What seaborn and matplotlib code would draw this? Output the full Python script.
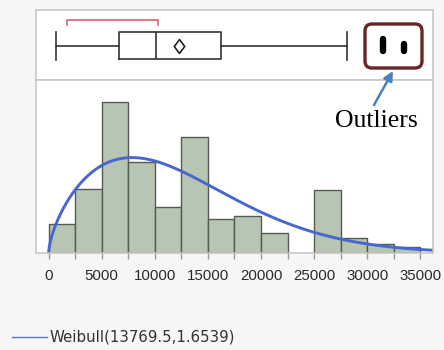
import numpy as np
import pandas as pd
import matplotlib
matplotlib.use("Agg")
import matplotlib.pyplot as plt
import seaborn as sns
from matplotlib.patches import FancyBboxPatch
from matplotlib.lines import Line2D
from matplotlib.path import Path
from matplotlib.transforms import IdentityTransform

# ---- data ----
bin_edges = [0, 2500, 5000, 7500, 10000, 12500, 15000, 17500, 20000,
             22500, 25000, 27500, 30000, 32500, 35000]
bin_percent = [4.3, 9.4, 22.2, 13.4, 6.8, 17.0, 5.0, 5.4, 2.9, 0.0,
               9.3, 2.2, 1.3, 0.9]
weibull_scale = 13769.5
weibull_shape = 1.6539
box_whisker_low = 700
box_q1 = 6650
box_median = 10140
box_q3 = 16260
box_whisker_high = 28100
box_mean = 12240
shortest_half = [1730, 10260]
outliers = [31520, 33490]
tick_values = [0, 5000, 10000, 15000, 20000, 25000, 30000, 35000]
tick_labels = ["0", "5000", "10000", "15000", "20000", "25000", "30000", "35000"]
legend_label = "Weibull(13769.5,1.6539)"

# ---- figure ----
W, H = 444, 350
bg = "#f6f6f6"
fig = plt.figure(figsize=(W / 100, H / 100), dpi=100, facecolor=bg)

L, R = 35.5, 433
ax_box = fig.add_axes([L / W, 1 - 80 / H, (R - L) / W, 70 / H])
ax = fig.add_axes([L / W, 1 - 253 / H, (R - L) / W, 173 / H])

xlim = (-1230, 36200)
for a in (ax_box, ax):
    a.set_facecolor("white")
    for s in a.spines.values():
        s.set_color("#c4c4c4")
        s.set_linewidth(1.1)
    a.set_xlim(*xlim)

# histogram
centers = [(bin_edges[i] + bin_edges[i + 1]) / 2 for i in range(len(bin_percent))]
df = pd.DataFrame({"x": centers, "w": bin_percent})
sns.histplot(data=df, x="x", weights="w", bins=bin_edges, ax=ax,
             color="#b7c6b3", edgecolor="#555a55", linewidth=1.0, alpha=1.0)
for p in ax.patches:
    if p.get_height() <= 0:
        p.set_visible(False)

# Weibull fit curve (scaled to percent per bin)
xs = np.linspace(0.5, xlim[1], 600)
k, lam = weibull_shape, weibull_scale
pdf = (k / lam) * (xs / lam) ** (k - 1) * np.exp(-(xs / lam) ** k)
curve = pd.DataFrame({"x": xs, "y": 100 * 2500 * pdf})
sns.lineplot(data=curve, x="x", y="y", ax=ax, color="#4766d0", linewidth=2.1)

ax.set_ylim(0, 25.4)
ax.set_yticks([])
ax.set_ylabel("")
ax.set_xlabel("")
ax.set_xticks(tick_values)
ax.set_xticklabels(tick_labels, fontsize=10.8, family="Liberation Sans", color="#2a2a2a")
ax.set_xticks([v + 2500 for v in tick_values[:-1]], minor=True)
ax.tick_params(axis="x", which="both", direction="out", length=4.5, width=1.0,
               color="#999999", pad=7)

# box plot
ax_box.set_ylim(0, 1)
stats = [dict(med=box_median, q1=box_q1, q3=box_q3, whislo=box_whisker_low,
              whishi=box_whisker_high, mean=box_mean, fliers=[])]
diamond = Path([(0, 1), (0.75, 0), (0, -1), (-0.75, 0), (0, 1)],
               [Path.MOVETO, Path.LINETO, Path.LINETO, Path.LINETO, Path.CLOSEPOLY])
lp = dict(color="#333333", linewidth=1.2)
ax_box.bxp(stats, positions=[0.49], widths=0.39, capwidths=0.4,
           orientation="horizontal", showmeans=True, showfliers=False,
           boxprops=lp, whiskerprops=lp, capprops=lp,
           medianprops=dict(color="#333333", linewidth=1.2),
           meanprops=dict(marker=diamond, markersize=10, markerfacecolor="white",
                          markeredgecolor="#222222", markeredgewidth=1.2))
ax_box.set_xlim(*xlim)
ax_box.set_xticks([])
ax_box.set_yticks([])
ax_box.tick_params(left=False, bottom=False, labelbottom=False, labelleft=False)

# shortest half bracket
ax_box.plot([shortest_half[0], shortest_half[0], shortest_half[1], shortest_half[1]],
            [0.79, 0.857, 0.857, 0.79], color="#d9546f", linewidth=1.1)

# outliers (stacked points)
for v, (y0, y1) in zip(outliers, [(0.42, 0.58), (0.42, 0.51)]):
    ax_box.plot([v, v], [y0, y1], color="black", linewidth=4.6,
                solid_capstyle="round")

# outlier callout box (display pixels)
box = FancyBboxPatch((365, H - 68), 57, 44,
                     boxstyle="round,pad=0,rounding_size=7",
                     transform=IdentityTransform(), facecolor="none",
                     edgecolor="#6a2424", linewidth=2.4, zorder=10)
fig.add_artist(box)

fig.text(376 / W, 1 - 127 / H, "Outliers", ha="center", va="baseline",
         fontsize=18.5, family="Liberation Serif", color="black")
ax.annotate("", xy=(393, H - 71), xytext=(374, H - 105),
            xycoords="figure pixels", textcoords="figure pixels",
            arrowprops=dict(arrowstyle="-|>", color="#4a7fc1", lw=1.8,
                            mutation_scale=14, shrinkA=0, shrinkB=0),
            annotation_clip=False)

# legend
fig.add_artist(Line2D([12 / W, 47 / W], [1 - 337 / H, 1 - 337 / H],
                      color="#5a78b8", linewidth=1.0))
fig.text(49 / W, 1 - 337 / H, legend_label, ha="left", va="center",
         fontsize=10.8, family="DejaVu Sans", color="#333333")

fig.savefig("out.png", dpi=100, facecolor=bg)
